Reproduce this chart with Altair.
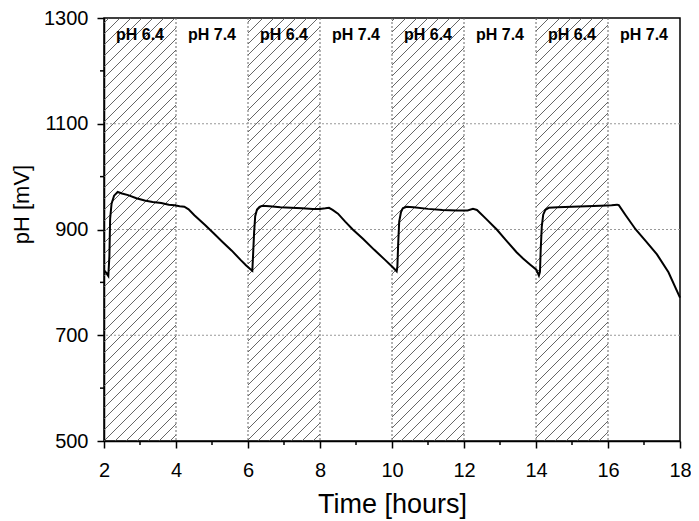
import altair as alt
import pandas as pd
import numpy as np

# ---- data ----
time_h = [2.02, 2.08, 2.12, 2.15, 2.17, 2.21, 2.28, 2.38, 2.5, 2.67, 2.9, 3.13, 3.35, 3.59, 3.8, 3.96, 4.1, 4.23,
          4.35, 4.51, 4.8, 5.06, 5.3, 5.55, 5.8, 5.95, 6.1,
          6.12, 6.14, 6.17, 6.2, 6.25, 6.32, 6.4, 6.6, 6.9, 7.2, 7.5, 7.8, 8.0, 8.15, 8.25, 8.35, 8.5, 8.7, 8.91,
          9.2, 9.5, 9.8, 10.0, 10.13,
          10.15, 10.17, 10.2, 10.25, 10.3, 10.4, 10.6, 11.0, 11.4, 11.8, 12.1, 12.25, 12.36, 12.6, 12.91, 13.2,
          13.46, 13.64, 13.85, 14.01, 14.08,
          14.11, 14.13, 14.16, 14.2, 14.26, 14.35, 14.6, 15.0, 15.4, 15.8, 16.1, 16.25, 16.3, 16.5, 16.77, 17.05,
          17.36, 17.68, 18.0]
ph_mv = [822, 816, 812, 850, 920, 949, 964, 971, 968, 965, 959, 955, 952, 950, 947, 946, 944, 943,
         938, 927, 909, 892, 876, 860, 842, 832, 823,
         822, 850, 895, 925, 938, 943, 945, 944, 942, 941, 940, 939, 939, 940, 941, 937, 930, 915, 900,
         882, 862, 843, 830, 821,
         830, 870, 915, 933, 940, 943, 942, 939, 937, 936, 936, 939, 937, 921, 900, 877,
         857, 845, 833, 824, 813,
         820, 860, 905, 928, 937, 941, 942, 943, 944, 945, 946, 947, 946, 926, 900, 878,
         853, 819, 771]

hatch_starts = [2, 6, 10, 14]          # pH 6.4 periods (hatched)
band_len = 2
edge_x = [4, 6, 8, 10, 12, 14, 16]
label_x = [3, 5, 7, 9, 11, 13, 15, 17]
label_text = ["pH 6.4", "pH 7.4", "pH 6.4", "pH 7.4", "pH 6.4", "pH 7.4", "pH 6.4", "pH 7.4"]
grid_mv = [700, 900, 1100]
x_ticks = [2, 4, 6, 8, 10, 12, 14, 16, 18]
x_minor = [3, 5, 7, 9, 11, 13, 15, 17]
y_ticks = [500, 700, 900, 1100, 1300]
y_minor = [600, 800, 1000, 1200]

# ---- layout ----
W, H = 576, 423
X0, X1 = 2, 18
Y0, Y1 = 500, 1300
FONT = "Liberation Sans"

# ---- hatch segments (45 deg on screen) derived from band extents ----
sx = W / (X1 - X0)
sy = H / (Y1 - Y0)
spacing = 11.0
rows = []
for a in hatch_starts:
    xa = (a - X0) * sx
    xb = (a + band_len - X0) * sx
    c = np.floor((xa - H) / spacing) * spacing
    while c < xb:
        s = max(xa, c)
        e = min(xb, c + H)
        if e - s > 0.5:
            rows.append({"x": X0 + s / sx, "y": Y0 + (s - c) / sy,
                         "x2": X0 + e / sx, "y2": Y0 + (e - c) / sy})
        c += spacing
hatch_df = pd.DataFrame(rows)

xs = alt.Scale(domain=[X0, X1], nice=False, zero=False)
ys = alt.Scale(domain=[Y0, Y1], nice=False, zero=False)

x_axis = alt.Axis(values=x_ticks, format="d", title="Time [hours]", labelFontSize=20, labelFont=FONT,
                  titleFont=FONT, titleFontSize=27, titleFontWeight="normal", titleColor="black",
                  labelColor="black", tickSize=7, tickWidth=1.5, tickColor="black", domainColor="black",
                  domainWidth=1.5, labelPadding=12, labelFlush=False, labelOverlap=False, grid=False,
                  titleY=71, titleBaseline="alphabetic")
y_axis = alt.Axis(values=y_ticks, format="d", title="pH [mV]", labelFontSize=20, labelFont=FONT,
                  titleFont=FONT, titleFontSize=22, titleFontWeight="normal", titleColor="black",
                  labelColor="black", tickSize=7, tickWidth=1.5, tickColor="black", domainColor="black",
                  domainWidth=1.5, labelPadding=9, labelFlush=False, labelOverlap=False, grid=False,
                  titleX=-76, titleY=186, titleBaseline="alphabetic")

hatch = alt.Chart(hatch_df).mark_rule(color="#555555", strokeWidth=0.9).encode(
    x=alt.X("x:Q", scale=xs, axis=x_axis), y=alt.Y("y:Q", scale=ys, axis=y_axis),
    x2="x2:Q", y2="y2:Q")

edges = alt.Chart(pd.DataFrame({"x": edge_x})).mark_rule(
    color="#666666", strokeWidth=1, strokeDash=[2, 2]).encode(x=alt.X("x:Q", scale=xs))

grid = alt.Chart(pd.DataFrame({"y": grid_mv})).mark_rule(
    color="#999999", strokeWidth=1, strokeDash=[2, 2]).encode(y=alt.Y("y:Q", scale=ys))

labels = alt.Chart(pd.DataFrame({"x": label_x, "t": label_text})).mark_text(
    font=FONT, fontSize=16, fontWeight="bold", color="black", baseline="alphabetic", align="center").encode(
    x=alt.X("x:Q", scale=xs), y=alt.value(22), text="t:N")

line = alt.Chart(pd.DataFrame({"t": time_h, "v": ph_mv})).mark_line(
    color="black", strokeWidth=2).encode(
    x=alt.X("t:Q", scale=xs), y=alt.Y("v:Q", scale=ys), order="t:Q")

xminor = alt.Chart(pd.DataFrame({"x": x_minor})).mark_rule(color="black", strokeWidth=1.5).encode(
    x=alt.X("x:Q", scale=xs), y=alt.value(H), y2=alt.value(H + 4))
yminor = alt.Chart(pd.DataFrame({"y": y_minor})).mark_rule(color="black", strokeWidth=1.5).encode(
    y=alt.Y("y:Q", scale=ys), x=alt.value(0), x2=alt.value(-4))

chart = alt.layer(hatch, edges, grid, labels, line, xminor, yminor).properties(
    width=W, height=H, autosize="none",
    padding={"left": 96, "top": 10, "right": 11, "bottom": 78},
    background="white"
).configure_view(stroke="black", strokeWidth=1.5)

chart.save("out.html", embed_options={"renderer": "svg", "actions": False})
